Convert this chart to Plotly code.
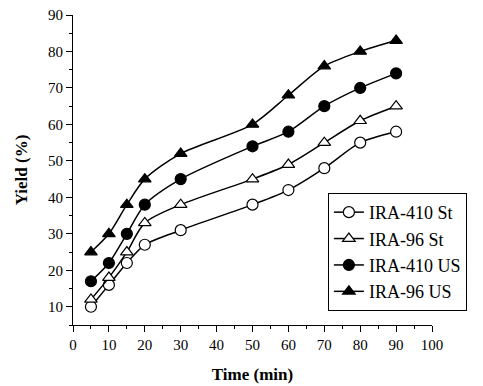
import plotly.graph_objects as go

time_min = [5, 10, 15, 20, 30, 50, 60, 70, 80, 90]
ira410_st = [10, 16, 22, 27, 31, 38, 42, 48, 55, 58]
ira96_st = [12, 18, 25, 33, 38, 45, 49, 55, 61, 65]
ira410_us = [17, 22, 30, 38, 45, 54, 58, 65, 70, 74]
ira96_us = [25, 30, 38, 45, 52, 60, 68, 76, 80, 83]

series = [
    ("IRA-410 St", ira410_st, "circle", "white"),
    ("IRA-96 St", ira96_st, "triangle-up", "white"),
    ("IRA-410 US", ira410_us, "circle", "black"),
    ("IRA-96 US", ira96_us, "triangle-up", "black"),
]

fig = go.Figure()
for name, ys, sym, fill in series:
    fig.add_trace(go.Scatter(
        x=time_min, y=ys, name=name, mode="lines+markers",
        line=dict(color="black", width=1.5, shape="spline", smoothing=0.8),
        marker=dict(symbol=sym, size=11, color=fill, line=dict(color="black", width=1.2)),
    ))

font = "Liberation Serif, Times New Roman, serif"
# page body has an 8px default margin, so the figure is slightly smaller than the window
fig.update_layout(
    width=475, height=378,
    margin=dict(l=65, r=51, t=7, b=61),
    paper_bgcolor="white", plot_bgcolor="white",
    font=dict(family=font, size=15, color="black"),
    showlegend=True,
    legend=dict(
        x=0.71, y=0.426, xanchor="left", yanchor="top",
        bordercolor="black", borderwidth=1, bgcolor="white",
        font=dict(family=font, size=18, color="black"),
        tracegroupgap=0, itemwidth=30,
    ),
)
fig.update_xaxes(
    range=[0, 100], tickvals=list(range(0, 101, 10)),
    showline=True, linecolor="black", linewidth=1.2,
    ticks="outside", ticklen=6, tickcolor="black",
    minor=dict(ticks="outside", ticklen=3, dtick=5, tickcolor="black"),
    showgrid=False, zeroline=False, automargin=False,
    ticklabeloverflow="allow",
    title=dict(text="<b>Time (min)</b>", font=dict(family=font, size=17), standoff=16),
    tickfont=dict(family=font, size=15),
)
fig.update_yaxes(
    range=[5, 90], tickvals=list(range(10, 91, 10)),
    showline=True, linecolor="black", linewidth=1.2,
    ticks="outside", ticklen=6, tickcolor="black",
    minor=dict(ticks="outside", ticklen=3, dtick=5, tickcolor="black"),
    showgrid=False, zeroline=False, automargin=False,
    ticklabeloverflow="allow",
    title=dict(text="<b>Yield (%)</b>", font=dict(family=font, size=17), standoff=15),
    tickfont=dict(family=font, size=15),
)

fig.write_html("out.html")
